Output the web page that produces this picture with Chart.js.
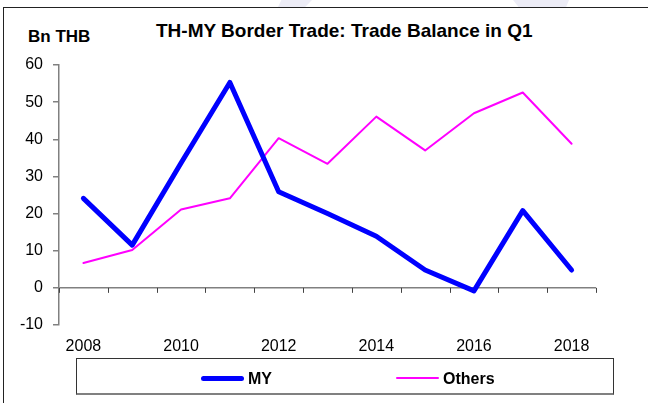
<!DOCTYPE html>
<html><head><meta charset="utf-8">
<script src="https://cdn.jsdelivr.net/npm/chart.js@4/dist/chart.umd.min.js"></script>
<style>
html,body{margin:0;padding:0;background:#fff;}
#wrap{position:relative;width:648px;height:403px;overflow:hidden;font-family:"Liberation Sans",Arial,sans-serif;color:#000;}
.wm{position:absolute;top:0;height:7px;background:#ececf6;}
#frame{position:absolute;left:3px;top:7px;width:700px;height:500px;border-left:1px solid #222;border-top:1px solid #222;}
#title{position:absolute;left:156px;top:20.6px;font-weight:bold;font-size:19px;line-height:19px;white-space:nowrap;}
#unit{position:absolute;left:28px;top:28px;font-weight:bold;font-size:17px;line-height:17px;white-space:nowrap;}
#legend{position:absolute;left:76px;top:358px;width:538px;height:37px;border:1px solid #333;border-bottom:2px solid #808080;box-sizing:border-box;}
.sw{position:absolute;border-radius:3px;}
.lt{position:absolute;font-weight:bold;font-size:16px;line-height:16px;white-space:nowrap;}
canvas{position:absolute;left:0;top:0;}
</style></head>
<body>
<div id="wrap">
  <div class="wm" style="left:278px;width:34px;clip-path:polygon(10% 0,100% 0,80% 100%,0 100%);"></div>
  <div class="wm" style="left:513px;width:56px;clip-path:polygon(0 0,100% 0,95% 100%,10% 100%);"></div>
  <div id="frame"></div>
  <div id="title">TH-MY Border Trade: Trade Balance in Q1</div>
  <div id="unit">Bn THB</div>
  <canvas id="c" width="648" height="403"></canvas>
  <div id="legend"></div>
</div>
<script>
const years = ['2008','2009','2010','2011','2012','2013','2014','2015','2016','2017','2018'];
const xTickLabels = ['2008','2010','2012','2014','2016','2018'];
const yTickValues = [-10, 0, 10, 20, 30, 40, 50, 60];
const seriesNames = ['MY', 'Others'];
const myValues = [24.1, 11.5, 33.6, 55.3, 25.9, 20.0, 13.9, 4.8, -0.8, 20.8, 4.8];
const othersValues = [6.7, 10.2, 21.1, 24.1, 40.3, 33.4, 46.1, 37.0, 47.0, 52.6, 38.8];

const FONT = '"Liberation Sans", Arial, sans-serif';

const zeroAxisTicks = {
  id: 'zeroAxisTicks',
  beforeDatasetsDraw(chart) {
    const x = chart.scales.x, y = chart.scales.y;
    const y0 = y.getPixelForValue(0);
    const n = x.ticks.length;
    const step = (x.right - x.left) / n;
    const ctx = chart.ctx;
    ctx.save();
    ctx.strokeStyle = '#444';
    ctx.lineWidth = 1;
    for (let i = 0; i <= n; i++) {
      const px = Math.round(x.left + i * step) + 0.5;
      ctx.beginPath();
      ctx.moveTo(px, y0);
      ctx.lineTo(px, y0 + 5);
      ctx.stroke();
    }
    ctx.restore();
  }
};

const chart = new Chart(document.getElementById('c'), {
  type: 'line',
  data: {
    labels: years,
    datasets: [
      { label: seriesNames[0], data: myValues, borderColor: '#0000FF', backgroundColor: '#0000FF',
        borderWidth: 5, pointRadius: 0, tension: 0, borderCapStyle: 'round', borderJoinStyle: 'round' },
      { label: seriesNames[1], data: othersValues, borderColor: '#FF00FF', backgroundColor: '#FF00FF',
        borderWidth: 2, pointRadius: 0, tension: 0, borderCapStyle: 'round', borderJoinStyle: 'round' }
    ]
  },
  options: {
    responsive: false,
    animation: false,
    events: [],
    layout: { padding: { top: 65, right: 52, bottom: 0, left: 0 } },
    plugins: { legend: { display: false }, title: { display: false }, tooltip: { enabled: false } },
    scales: {
      x: {
        type: 'category',
        offset: true,
        grid: { display: false },
        border: { display: false },
        ticks: {
          autoSkip: false, maxRotation: 0, minRotation: 0, padding: 4,
          color: '#000', font: { family: FONT, size: 16 },
          callback: function(v, i) { const l = this.getLabelForValue(v); return xTickLabels.includes(l) ? l : ''; }
        },
        afterFit: s => { s.height = 78; }
      },
      y: {
        min: -10, max: 60,
        afterBuildTicks: s => { s.ticks = yTickValues.map(v => ({ value: v })); },
        grid: {
          drawOnChartArea: true,
          color: c => (c.tick && c.tick.value === 0) ? '#808080' : 'rgba(0,0,0,0)',
          lineWidth: 1.5,
          tickColor: '#808080',
          tickLength: 6
        },
        border: { display: true, color: '#808080', width: 1.5 },
        ticks: { padding: 10, color: '#000', font: { family: FONT, size: 16 } },
        afterFit: s => { s.width = 59; }
      }
    }
  },
  plugins: [zeroAxisTicks]
});

// HTML legend built from the datasets
const legend = document.getElementById('legend');
const legendPos = [{ sw: 124, txt: 171 }, { sw: 319, txt: 366 }];
chart.data.datasets.forEach((ds, i) => {
  const sw = document.createElement('div');
  sw.className = 'sw';
  sw.style.left = legendPos[i].sw + 'px';
  sw.style.width = '43px';
  sw.style.height = ds.borderWidth + 'px';
  sw.style.top = (19 - ds.borderWidth / 2) + 'px';
  sw.style.background = ds.borderColor;
  legend.appendChild(sw);
  const t = document.createElement('div');
  t.className = 'lt';
  t.style.left = legendPos[i].txt + 'px';
  t.style.top = '11.5px';
  t.textContent = ds.label;
  legend.appendChild(t);
});
</script>
</body></html>
